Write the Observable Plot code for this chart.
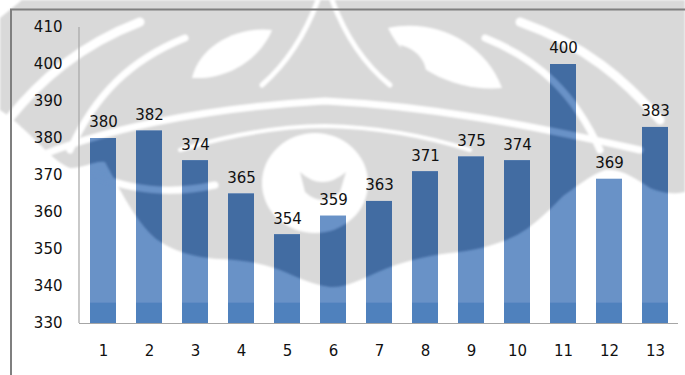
<!DOCTYPE html>
<html>
<head>
<meta charset="utf-8">
<script src="https://cdn.jsdelivr.net/npm/d3@7"></script>
<script src="https://cdn.jsdelivr.net/npm/@observablehq/plot@0.6"></script>
<style>
  html, body { margin: 0; padding: 0; background: #fff; }
  #chart { width: 685px; height: 375px; overflow: hidden; position: relative; }
  #chart svg { display: block; }
</style>
</head>
<body>
<div id="chart"></div>
<script>
// Series
const categories = ["1", "2", "3", "4", "5", "6", "7", "8", "9", "10", "11", "12", "13"];
const values = [380, 382, 374, 365, 354, 359, 363, 371, 375, 374, 400, 369, 383];
const yTicks = [330, 340, 350, 360, 370, 380, 390, 400, 410];

const yFloor = 330;
const yCeil = 410;
const footTop = 335.5; // top of the darker foot on every column

const data = categories.map((c, i) => ({ category: c, value: values[i] }));

const colors = {
  bar: "#6992c7",
  foot: "#4f81bd",
  shade: "#426ca2",
  paper: "#d9d9d9",
  frame: "#7f7f7f",
  axis: "#a6a6a6",
  text: "#111"
};

const chart = Plot.plot({
  width: 685,
  height: 375,
  marginLeft: 79,
  marginRight: 7,
  marginTop: 27,
  marginBottom: 52,
  style: { fontFamily: "DejaVu Sans", fontSize: "15px", color: colors.text, background: "transparent", overflow: "visible" },
  x: { domain: categories, paddingInner: 0.435, paddingOuter: 0.2175, label: null },
  y: { domain: [yFloor, yCeil], label: null },
  marks: [
    Plot.axisY(yTicks, { tickSize: 0, tickPadding: 17, label: null, fill: colors.text }),
    Plot.axisX({ tickSize: 0, tickPadding: 22, label: null, fill: colors.text }),
    Plot.barY(data, { x: "category", y1: yFloor, y2: "value", fill: colors.bar }),
    Plot.barY(data, { x: "category", y1: yFloor, y2: d => Math.min(d.value, footTop), fill: colors.foot }),
    Plot.ruleY([yFloor], { stroke: colors.axis, strokeWidth: 1.2 }),
    Plot.text(data, { x: "category", y: "value", text: d => String(d.value), dy: -16, fill: colors.text })
  ]
});

document.getElementById("chart").append(chart);

// Faint emblem printed behind the chart
const emblemRegion =
  "M0,18 L22,0 L685,0 L685,192 C670,195 660,192 650,188 C635,178 620,168 605,170 " +
  "C590,175 575,188 563,196 C545,215 530,228 517,235 C495,246 475,250 450,253 " +
  "C425,256 400,262 378,272 C360,280 345,288 330,287 C310,284 295,276 280,270 " +
  "C260,262 240,260 220,259 C195,258 170,250 155,238 C135,220 120,190 105,162 " +
  "C95,160 85,168 70,168 C50,160 30,130 0,110 Z";
const emblemHoles = [
  "M262,183 A53,50 0 1,0 368,183 A53,50 0 1,0 262,183 Z",
  "M192,78 C200,45 238,26 272,30 C262,55 232,80 192,78 Z",
  "M388,28 C432,18 484,40 502,88 C458,92 408,70 388,28 Z"
];
const emblemStrokes = [
  { d: "M30,160 C100,130 200,108 325,101 C430,106 530,125 640,150", w: 7 },
  { d: "M180,150 C240,132 290,126 325,126 C370,127 420,134 470,150", w: 4 },
  { d: "M95,175 C130,190 170,195 215,185", w: 7 },
  { d: "M318,0 C305,35 285,65 262,85", w: 5 },
  { d: "M332,0 C345,35 365,65 390,85", w: 5 },
  { d: "M8,120 C40,80 80,45 140,22", w: 9 },
  { d: "M70,150 C95,95 130,60 185,38", w: 7 },
  { d: "M660,120 C625,80 585,45 520,22", w: 9 },
  { d: "M600,150 C575,95 540,60 485,38", w: 7 }
];
const emblemSeed = "M300,172 Q322,192 346,172 L340,192 Q322,208 305,192 Z";
const emblemCurl = "M400,45 C420,50 430,65 425,85 C415,75 405,62 400,45 Z";

function drawEmblem(g, ink, blank) {
  g.append("path").attr("d", emblemRegion).attr("fill", ink);
  for (const h of emblemHoles) g.append("path").attr("d", h).attr("fill", blank);
  for (const s of emblemStrokes) {
    g.append("path").attr("d", s.d).attr("fill", "none").attr("stroke", blank)
      .attr("stroke-width", s.w).attr("stroke-linecap", "round");
  }
  g.append("path").attr("d", emblemSeed).attr("fill", ink);
  g.append("path").attr("d", emblemCurl).attr("fill", ink);
}

const svg = d3.select(chart);
const defs = svg.insert("defs", ":first-child");
defs.append("filter").attr("id", "soft").attr("x", "-5%").attr("y", "-5%").attr("width", "110%").attr("height", "110%")
  .append("feGaussianBlur").attr("stdDeviation", 1.3);

// emblem on the paper, under every mark
const back = svg.insert("g", "defs + *").attr("filter", "url(#soft)");
drawEmblem(back, colors.paper, "#fff");

// emblem seen through the columns, clipped to the column shapes
const barGroup = svg.selectAll('g[aria-label="bar"]').nodes()[0];
const clip = defs.append("clipPath").attr("id", "columns");
const groupTransform = barGroup.getAttribute("transform");
d3.select(barGroup).selectAll("rect").each(function () {
  const r = this.cloneNode();
  if (groupTransform) r.setAttribute("transform", groupTransform);
  clip.node().appendChild(r);
});
const over = d3.create("svg:g").attr("clip-path", "url(#columns)");
const overInner = over.append("g").attr("filter", "url(#soft)");
drawEmblem(overInner, colors.shade, colors.bar);
barGroup.parentNode.insertBefore(over.node(), barGroup.nextSibling);

// vertical axis line, placed from the scales
const xs = chart.scale("x");
const ys = chart.scale("y");
svg.append("line")
  .attr("x1", xs.range[0]).attr("x2", xs.range[0])
  .attr("y1", ys.apply(yCeil)).attr("y2", ys.apply(yFloor))
  .attr("stroke", colors.axis).attr("stroke-width", 1.2);

// outer border of the chart box
svg.append("path")
  .attr("d", "M11,375 L11,9.5 L685,9.5")
  .attr("fill", "none").attr("stroke", colors.frame).attr("stroke-width", 2);
</script>
</body>
</html>
